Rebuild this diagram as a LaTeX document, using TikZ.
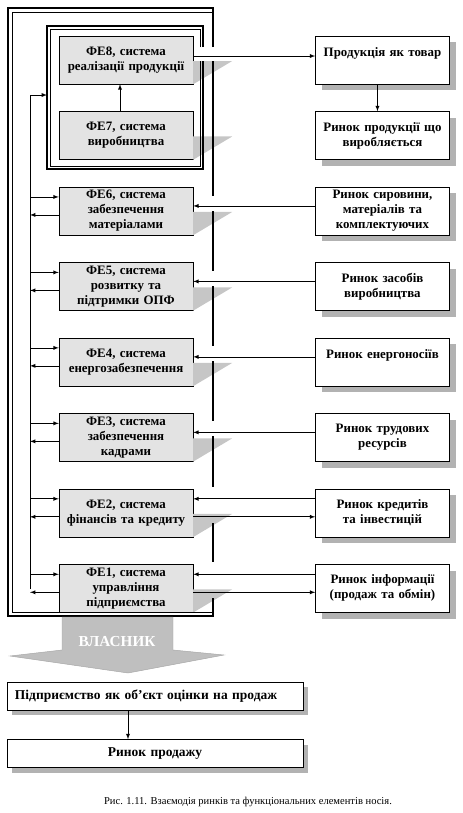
\documentclass[tikz,border=0pt]{standalone}
\usepackage{fontspec}
\setmainfont{Liberation Serif}
\usepackage{tikz}
\usetikzlibrary{shapes,arrows,positioning,shadows}

\begin{document}
\begin{tikzpicture}[
    x=0.3mm, y=-0.3mm,
    node distance=8.1mm and 36.6mm,
    febox/.style={rectangle, draw, fill=gray!22, text width=38mm, align=center, inner xsep=1.1mm, inner ysep=0.3mm, minimum height=14.4mm, font=\fontsize{11}{12.8}\selectfont\bfseries},
    mktbox/.style={rectangle, draw, fill=white, text width=38mm, align=center, inner xsep=1.1mm, inner ysep=0.3mm, minimum height=14.4mm, font=\fontsize{11}{12.8}\selectfont\bfseries, drop shadow={shadow xshift=1.9mm, shadow yshift=-1.9mm, fill=gray!60, opacity=1}},
    widebox/.style={rectangle, draw, fill=white, text width=84mm, inner xsep=2.4mm, minimum height=8.4mm, font=\fontsize{11.5}{13}\selectfont\bfseries, drop shadow={shadow xshift=1.6mm, shadow yshift=-1.6mm, fill=gray!60, opacity=1}},
    wedge/.style={fill=gray!45},
    frameline/.style={line width=2.2pt},
    blkline/.style={line width=1.3pt},
    thinline/.style={line width=0.6pt},
    arrow/.style={-latex, semithick}
]
    \useasboundingbox (0,0) rectangle (463,813);

    % functional elements
    \node[febox] (fe8) at (126,60) {ФЕ8, система\\реалізації продукції};
    \node[febox, below=of fe8] (fe7) {ФЕ7, система\\виробництва};
    \node[febox, below=of fe7] (fe6) {ФЕ6, система\\забезпечення\\матеріалами};
    \node[febox, below=of fe6] (fe5) {ФЕ5, система\\розвитку та\\підтримки ОПФ};
    \node[febox, below=of fe5] (fe4) {ФЕ4, система\\енергозабезпечення};
    \node[febox, below=of fe4] (fe3) {ФЕ3, система\\забезпечення\\кадрами};
    \node[febox, below=of fe3] (fe2) {ФЕ2, система\\фінансів та кредиту};
    \node[febox, below=of fe2] (fe1) {ФЕ1, система\\управління\\підприємства};

    % markets
    \node[mktbox, right=of fe8] (tovar) {Продукція як товар\\\mbox{}};
    \node[mktbox, right=of fe7] (rynprod) {Ринок продукції що\\виробляється};
    \node[mktbox, right=of fe6] (rynsyr) {Ринок сировини,\\матеріалів та\\комплектуючих};
    \node[mktbox, right=of fe5] (rynzas) {Ринок засобів\\виробництва};
    \node[mktbox, right=of fe4] (rynen) {Ринок енергоносіїв\\\mbox{}};
    \node[mktbox, right=of fe3] (ryntr) {Ринок трудових\\ресурсів};
    \node[mktbox, right=of fe2] (rynkr) {Ринок кредитів\\та інвестицій};
    \node[mktbox, right=of fe1] (rynin) {Ринок інформації\\(продаж та обмін)};

    % wedges behind the frame
    \fill[wedge] ([yshift=-0.3mm]fe8.east) -- ++(39,0) -- (fe8.south east) -- cycle;
    \fill[wedge] ([yshift=-0.3mm]fe7.east) -- ++(39,0) -- (fe7.south east) -- cycle;
    \fill[wedge] ([yshift=-0.3mm]fe6.east) -- ++(39,0) -- (fe6.south east) -- cycle;
    \fill[wedge] ([yshift=-0.3mm]fe5.east) -- ++(39,0) -- (fe5.south east) -- cycle;
    \fill[wedge] ([yshift=-0.3mm]fe4.east) -- ++(39,0) -- (fe4.south east) -- cycle;
    \fill[wedge] ([yshift=-0.3mm]fe3.east) -- ++(39,0) -- (fe3.south east) -- cycle;
    \fill[wedge] ([yshift=-0.3mm]fe2.east) -- ++(39,0) -- (fe2.south east) -- cycle;
    \fill[wedge] ([yshift=-0.3mm]fe1.east) -- ++(39,0) -- (fe1.south east) -- cycle;

    % outer frame, open where the arrows pass
    \draw[frameline] (213,47) -- (213,8) -- (8,8) -- (8,616) -- (213,616) -- (213,598);
    \draw[thinline] (212,12) -- (12,12) -- (12,612) -- (212,612);
    \foreach \a/\b in {61/196, 211/271, 286/346, 361/421, 436/487, 523/562}
        \draw[frameline] (213,\a) -- (213,\b);

    % frame round FE8 and FE7
    \draw[blkline] (203,47) -- (203,26) -- (47,26) -- (47,169) -- (203,169) -- (203,61);
    \draw[thinline] (200,47) -- (200,29) -- (50,29) -- (50,166) -- (200,166) -- (200,61);

    % owner
    \filldraw[fill=gray!50, draw=gray!70] (62,617) -- (62,650) -- (10,656) -- (128,673) -- (224,655) -- (173,650) -- (173,617) -- cycle;
    \coordinate (vtip) at (128,673);
    \node[text=white, font=\fontsize{13}{15}\selectfont\bfseries] (vlasnyk) at (117,642) {ВЛАСНИК};

    \node[widebox, align=left] (pidpr) at (155,696) {Підприємство як об’єкт оцінки на продаж};
    \node[widebox, align=center, below=8.7mm of pidpr] (prodazh) {Ринок продажу};

    % left bus
    \coordinate (busbot) at (30,589);
    \coordinate (blkin) at (47,95);
    \draw[arrow] (busbot) |- (blkin);
    \draw[arrow] ([yshift=4.2mm]fe6.west -| busbot) -- ([yshift=4.2mm]fe6.west);
    \draw[arrow] ([yshift=-1.2mm]fe6.west) -- ([yshift=-1.2mm]fe6.west -| busbot);
    \draw[arrow] ([yshift=4.2mm]fe5.west -| busbot) -- ([yshift=4.2mm]fe5.west);
    \draw[arrow] ([yshift=-1.2mm]fe5.west) -- ([yshift=-1.2mm]fe5.west -| busbot);
    \draw[arrow] ([yshift=4.2mm]fe4.west -| busbot) -- ([yshift=4.2mm]fe4.west);
    \draw[arrow] ([yshift=-1.2mm]fe4.west) -- ([yshift=-1.2mm]fe4.west -| busbot);
    \draw[arrow] ([yshift=4.2mm]fe3.west -| busbot) -- ([yshift=4.2mm]fe3.west);
    \draw[arrow] ([yshift=-1.2mm]fe3.west) -- ([yshift=-1.2mm]fe3.west -| busbot);
    \draw[arrow] ([yshift=4.2mm]fe2.west -| busbot) -- ([yshift=4.2mm]fe2.west);
    \draw[arrow] ([yshift=-1.2mm]fe2.west) -- ([yshift=-1.2mm]fe2.west -| busbot);
    \draw[arrow] ([yshift=4.2mm]fe1.west -| busbot) -- ([yshift=4.2mm]fe1.west);
    \draw[arrow] ([yshift=-1.2mm]fe1.west) -- ([yshift=-1.2mm]fe1.west -| busbot);

    % right side
    \draw[arrow] ([xshift=-1.8mm]fe7.north) -- ([xshift=-1.8mm]fe8.south);
    \draw[arrow] ([yshift=1.2mm]fe8.east) -- ([yshift=1.2mm]fe8.east -| tovar.west);
    \draw[arrow] ([xshift=-1.5mm]tovar.south) -- ([xshift=-1.5mm]rynprod.north);
    \draw[arrow] ([yshift=1.5mm]fe6.east -| rynsyr.west) -- ([yshift=1.5mm]fe6.east);
    \draw[arrow] ([yshift=1.5mm]fe5.east -| rynzas.west) -- ([yshift=1.5mm]fe5.east);
    \draw[arrow] ([yshift=1.5mm]fe4.east -| rynen.west) -- ([yshift=1.5mm]fe4.east);
    \draw[arrow] ([yshift=1.5mm]fe3.east -| ryntr.west) -- ([yshift=1.5mm]fe3.east);
    \draw[arrow] ([yshift=4.2mm]fe2.east -| rynkr.west) -- ([yshift=4.2mm]fe2.east);
    \draw[arrow] ([yshift=-1.2mm]fe2.east) -- ([yshift=-1.2mm]fe2.east -| rynkr.west);
    \draw[arrow] ([yshift=4.2mm]fe1.east -| rynin.west) -- ([yshift=4.2mm]fe1.east);
    \draw[arrow] ([yshift=-1.2mm]fe1.east) -- ([yshift=-1.2mm]fe1.east -| rynin.west);

    \draw[arrow] (pidpr.south -| vtip) -- (prodazh.north -| vtip);

    \node[font=\fontsize{9}{10}\selectfont] (caption) at (248,802) {Рис. 1.11. Взаємодія ринків та функціональних елементів носія.};

\end{tikzpicture}
\end{document}
